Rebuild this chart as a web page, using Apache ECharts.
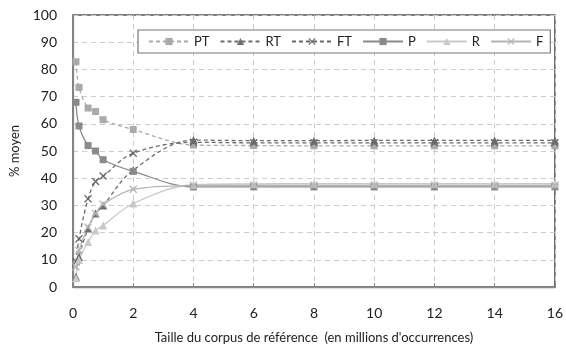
<!DOCTYPE html>
<html>
<head>
<meta charset="utf-8">
<script src="https://cdn.jsdelivr.net/npm/echarts@6/dist/echarts.min.js"></script>
<style>
  html, body { margin: 0; padding: 0; background: #fff; }
  #main { width: 566px; height: 349px; }
</style>
</head>
<body>
<div id="main"></div>
<script>
// taille du corpus (millions d'occurrences)
var xTaille = [0.1, 0.2, 0.5, 0.75, 1, 2, 4, 6, 8, 10, 12, 14, 16];
var tickX = [0, 2, 4, 6, 8, 10, 12, 14, 16];
var tickY = [0, 10, 20, 30, 40, 50, 60, 70, 80, 90, 100];

// % moyen
var valPT = [82.8, 73.4, 65.8, 64.5, 61.5, 57.9, 52.2, 52.0, 51.9, 51.9, 51.9, 51.9, 51.9];
var valRT = [3.8, 11.0, 21.5, 27.0, 30.0, 43.0, 54.0, 53.8, 53.8, 53.9, 53.9, 53.9, 53.9];
var valFT = [9.3, 17.7, 32.4, 38.8, 40.8, 49.2, 53.2, 53.0, 53.0, 53.0, 53.0, 53.0, 53.0];
var valP = [67.9, 59.2, 52.0, 50.0, 46.8, 42.5, 36.8, 36.8, 36.8, 36.8, 36.8, 36.8, 36.8];
var valR = [3.2, 9.9, 16.5, 20.8, 22.6, 30.7, 37.6, 37.9, 38.0, 38.0, 38.0, 38.0, 38.0];
var valF = [7.4, 13.5, 22.0, 27.0, 30.4, 35.9, 37.3, 37.4, 37.4, 37.4, 37.4, 37.4, 37.4];

var croix = 'path://M0,1.2L1.2,0L5,3.8L8.8,0L10,1.2L6.2,5L10,8.8L8.8,10L5,6.2L1.2,10L0,8.8L3.8,5Z';

function paires(vals) {
  var out = [];
  for (var i = 0; i < xTaille.length; i++) {
    out.push([xTaille[i], vals[i]]);
  }
  return out;
}

function serie(nom, vals, couleur, symbole, taille, pointille) {
  return {
    name: nom,
    type: 'line',
    data: paires(vals),
    smooth: 0.35,
    symbol: symbole,
    symbolSize: taille,
    lineStyle: {
      color: couleur,
      width: 1.3,
      type: pointille ? [4, 3] : 'solid'
    },
    itemStyle: { color: couleur },
    emphasis: { disabled: true }
  };
}

var myChart = echarts.init(document.getElementById('main'));

var option = {
  animation: false,
  textStyle: { fontFamily: 'Lato', color: '#222' },
  grid: {
    left: 73,
    right: 9,
    top: 15,
    bottom: 58,
    show: true,
    borderColor: '#555',
    borderWidth: 1.5
  },
  legend: {
    left: 138,
    top: 30,
    width: 440,
    itemWidth: 40,
    itemHeight: 9,
    itemGap: 10,
    padding: [5, 7, 5, 10],
    borderColor: '#777',
    borderWidth: 1.2,
    backgroundColor: '#fff',
    textStyle: { fontFamily: 'Lato', fontSize: 13, color: '#222' },
    data: ['PT', 'RT', 'FT', 'P', 'R', 'F']
  },
  xAxis: {
    type: 'value',
    min: 0,
    max: 16,
    interval: 2,
    name: "Taille du corpus de référence  (en millions d'occurrences)",
    nameLocation: 'middle',
    nameGap: 44,
    nameTextStyle: { fontFamily: 'Lato', fontSize: 13, color: '#222' },
    axisLine: { lineStyle: { color: '#888', width: 1.3 } },
    axisTick: { show: true, inside: true, length: 4, lineStyle: { color: '#888' } },
    axisLabel: {
      margin: 19,
      fontSize: 14,
      color: '#222',
      formatter: function (v) { return tickX.indexOf(v) >= 0 ? String(v) : ''; }
    },
    splitLine: { show: true, lineStyle: { color: '#ccc', type: [5, 4] } }
  },
  yAxis: {
    type: 'value',
    min: 0,
    max: 100,
    interval: 10,
    name: '% moyen',
    nameLocation: 'middle',
    nameGap: 50,
    nameTextStyle: { fontFamily: 'Lato', fontSize: 13, color: '#222' },
    axisLine: { show: true, lineStyle: { color: '#888', width: 1.3 } },
    axisTick: { show: false },
    axisLabel: {
      margin: 16,
      fontSize: 14,
      color: '#222',
      formatter: function (v) { return tickY.indexOf(v) >= 0 ? String(v) : ''; }
    },
    splitLine: { show: true, lineStyle: { color: '#ccc', type: [5, 4] } }
  },
  series: [
    serie('PT', valPT, '#aaaaaa', 'rect', 7, true),
    serie('RT', valRT, '#6e6e6e', 'triangle', 8, true),
    serie('FT', valFT, '#6a6a6a', croix, 8, true),
    serie('P', valP, '#8a8a8a', 'rect', 7, false),
    serie('R', valR, '#c9c9c9', 'triangle', 8, false),
    serie('F', valF, '#b5b5b5', croix, 8, false)
  ]
};

myChart.setOption(option);
</script>
</body>
</html>
